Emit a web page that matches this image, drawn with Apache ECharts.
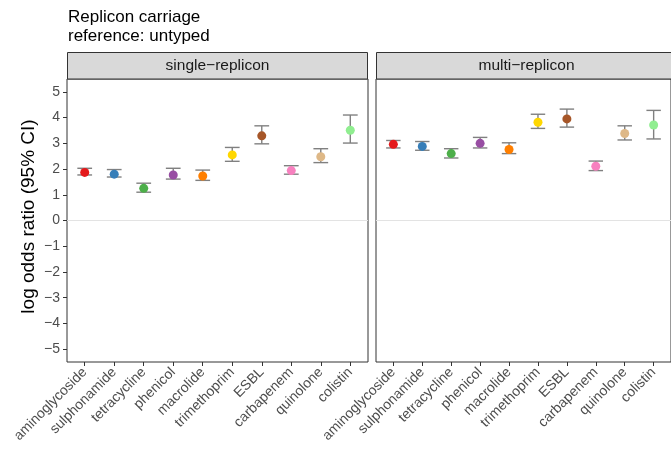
<!DOCTYPE html>
<html><head><meta charset="utf-8">
<script src="https://cdn.jsdelivr.net/npm/echarts@6/dist/echarts.min.js"></script>
<style>html,body{margin:0;padding:0;background:#fff}#c{width:671px;height:455px}</style>
</head><body><div id="c"></div>
<script>
const categories = ['aminoglycoside','sulphonamide','tetracycline','phenicol','macrolide','trimethoprim','ESBL','carbapenem','quinolone','colistin'];
const colors = ['#E41A1C','#377EB8','#4DAF4A','#984EA3','#FF7F00','#FFD700','#A65628','#F781BF','#DEB887','#90EE90'];
const panels = ['single\u2212replicon','multi\u2212replicon'];
const singleEst = [1.87,1.80,1.25,1.77,1.73,2.55,3.29,1.94,2.48,3.51];
const singleLow = [1.77,1.69,1.10,1.61,1.56,2.30,2.98,1.80,2.25,3.01];
const singleHigh = [2.03,1.98,1.45,2.03,1.96,2.84,3.68,2.13,2.79,4.10];
const multiEst = [2.96,2.88,2.60,3.00,2.76,3.82,3.95,2.11,3.38,3.71];
const multiLow = [2.82,2.73,2.43,2.82,2.60,3.58,3.63,1.94,3.13,3.17];
const multiHigh = [3.11,3.07,2.79,3.23,3.02,4.13,4.33,2.31,3.68,4.28];
const yTicks = [-5,-4,-3,-2,-1,0,1,2,3,4,5];

const FONT = 'Liberation Sans';
const chart = echarts.init(document.getElementById('c'), null, {renderer:'canvas'});
const idx = categories.map((_, i) => i);
const grids = [
  {left: 67, top: 79, width: 301, height: 283},
  {left: 376, top: 79, width: 301, height: 283}
];
const ests = [singleEst, multiEst], lows = [singleLow, multiLow], highs = [singleHigh, multiHigh];

const xAxes = grids.map((g, k) => ({
  type: 'value', gridIndex: k, min: -0.6, max: 9.6, position: 'bottom',
  splitLine: {show: false}, axisLine: {show: false, onZero: false},
  axisTick: {show: true, inside: false, length: 4, lineStyle: {color: '#333', width: 1}, customValues: idx},
  axisLabel: {show: true, customValues: idx, rotate: 45, margin: 8, color: '#4d4d4d', fontSize: 14, fontFamily: FONT,
    formatter: v => categories[Math.round(v)]}
}));
const yAxes = grids.map((g, k) => ({
  type: 'value', gridIndex: k, min: -5.5, max: 5.5, position: 'left',
  splitLine: {show: false}, axisLine: {show: false, onZero: false},
  axisTick: {show: k === 0, inside: false, length: 4, lineStyle: {color: '#333', width: 1}, customValues: yTicks},
  axisLabel: {show: k === 0, customValues: yTicks, margin: 7, color: '#4d4d4d', fontSize: 14, fontFamily: FONT,
    formatter: v => String(v).replace('-', '\u2212')},
  name: k === 0 ? 'log odds ratio (95% CI)' : '',
  nameLocation: 'middle', nameRotate: 90, nameGap: 29,
  nameTextStyle: {color: '#000', fontSize: 19, fontFamily: FONT, padding: [0, 0, 0, 8]}
}));

const series = [];
grids.forEach((g, k) => {
  series.push({
    type: 'custom', xAxisIndex: k, yAxisIndex: k, z: 2,
    data: idx.map(i => [i, lows[k][i], highs[k][i]]),
    renderItem: (params, api) => {
      const x = api.value(0);
      const lo = api.coord([x, api.value(1)]);
      const hi = api.coord([x, api.value(2)]);
      const hw = api.size([0.25, 0])[0];
      const st = {stroke: '#808080', lineWidth: 1.4};
      return {type: 'group', children: [
        {type: 'line', shape: {x1: lo[0], y1: lo[1], x2: hi[0], y2: hi[1]}, style: st},
        {type: 'line', shape: {x1: lo[0]-hw, y1: lo[1], x2: lo[0]+hw, y2: lo[1]}, style: st},
        {type: 'line', shape: {x1: hi[0]-hw, y1: hi[1], x2: hi[0]+hw, y2: hi[1]}, style: st}
      ]};
    }
  });
  series.push({
    type: 'scatter', xAxisIndex: k, yAxisIndex: k, z: 3, symbolSize: 9,
    data: idx.map(i => ({value: [i, ests[k][i]], itemStyle: {color: colors[i], opacity: 1}})),
    markLine: {silent: true, symbol: ['none','none'], label: {show: false},
      lineStyle: {color: '#e3e3e3', width: 1, type: 'solid'}, data: [{yAxis: 0}], z: 1}
  });
});

const graphics = [
  {type: 'text', left: 68, top: 8, style: {text: 'Replicon carriage\nreference: untyped', fill: '#000', font: '17px "Liberation Sans"', lineHeight: 19}}
];
grids.forEach((g, k) => {
  graphics.push({type: 'rect', shape: {x: g.left + 0.5, y: 52.5, width: g.width - 1, height: 26.5},
    style: {fill: '#d9d9d9', stroke: '#333', lineWidth: 1}});
  graphics.push({type: 'text', x: g.left + g.width/2, y: 66,
    style: {text: panels[k], fill: '#1a1a1a', font: '15.5px "Liberation Sans"', align: 'center', verticalAlign: 'middle'}});
});

chart.setOption({
  animation: false,
  backgroundColor: '#fff',
  grid: grids.map(g => Object.assign({show: true, borderColor: '#333', borderWidth: 1, backgroundColor: '#fff'}, g)),
  xAxis: xAxes, yAxis: yAxes, series: series, graphic: graphics
});
</script></body></html>
